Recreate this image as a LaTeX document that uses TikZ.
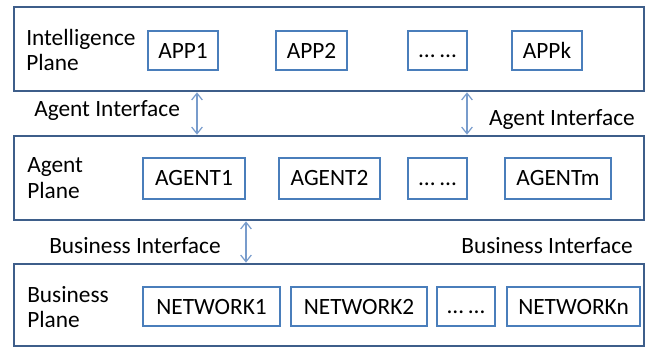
\documentclass[tikz,border=0pt]{standalone}
\usepackage{fontspec}
\setmainfont{Carlito}
\usetikzlibrary{arrows.meta}
\definecolor{frameblue}{RGB}{62,94,138}
\definecolor{boxblue}{RGB}{74,126,187}
\definecolor{arrblue}{RGB}{120,156,204}
\tikzset{
  plane/.style 2 args={draw=frameblue, line width=2pt, inner sep=0pt, minimum width=#1*0.75pt, minimum height=#2*0.75pt},
  unit/.style 2 args={draw=boxblue, line width=1.1pt, inner sep=0pt, minimum width=#1*0.75pt, minimum height=#2*0.75pt, font=\fontsize{17.5}{21}\selectfont},
  ptext/.style={anchor=west, align=left, inner sep=0pt, font=\fontsize{17.5}{19}\selectfont},
  iface/.style={inner sep=0pt, font=\fontsize{17.5}{21}\selectfont},
  link/.style={draw=arrblue, line width=0.9pt, {Straight Barb[length=5pt,width=8pt]}-{Straight Barb[length=5pt,width=8pt]}}
}
\newcommand{\dd}{\vphantom{A}… …}
\begin{document}
\begin{tikzpicture}[x=0.75pt,y=-0.75pt]
\useasboundingbox (0,0) rectangle (652,347);
% planes
\node[plane={630}{84}]  (IP) at (329,49) {};
\node[plane={630}{84}]  (AP) at (329,178) {};
\node[plane={630}{82}]  (BP) at (329,305) {};
\node[ptext] (IPt) at (26,50) {Intelligence\\Plane};
\node[ptext] (APt) at (27,178) {Agent\\Plane};
\node[ptext] (BPt) at (27,307) {Business\\Plane};
% intelligence units
\node[unit={70}{39}] (APP1) at (183,50.5) {APP1};
\node[unit={71}{39}] (APP2) at (311.5,50.5) {APP2};
\node[unit={59}{39}] (APPd) at (437.5,50.5) {\dd};
\node[unit={70}{39}] (APPk) at (547,50.5) {APPk};
% agent units
\node[unit={102}{41}] (AG1) at (194,178.5) {AGENT1};
\node[unit={101}{41}] (AG2) at (329.5,178.5) {AGENT2};
\node[unit={59}{41}]  (AGd) at (437.5,178.5) {\dd};
\node[unit={106}{41}] (AGm) at (558,178.5) {AGENTm};
% network units
\node[unit={137}{39}] (NW1) at (211.5,306.5) {NETWORK1};
\node[unit={136}{39}] (NW2) at (359,306.5) {NETWORK2};
\node[unit={58}{39}]  (NWd) at (466,306.5) {\dd};
\node[unit={133}{39}] (NWn) at (573.5,306.5) {NETWORKn};
% interface links
\coordinate (l1) at (197,0);
\coordinate (l2) at (467,0);
\coordinate (l3) at (246,0);
\draw[link] (IP.south -| l1) -- (AP.north -| l1);
\draw[link] (IP.south -| l2) -- (AP.north -| l2);
\draw[link] (AP.south -| l3) -- (BP.north -| l3);
% interface labels
\node[iface, anchor=west] (AI1) at (34,111) {Agent Interface};
\node[iface, anchor=east] (AI2) at (635,120) {Agent Interface};
\node[iface, anchor=west] (BI1) at (49,246) {Business Interface};
\node[iface, anchor=east] (BI2) at (633,246) {Business Interface};
\end{tikzpicture}
\end{document}
